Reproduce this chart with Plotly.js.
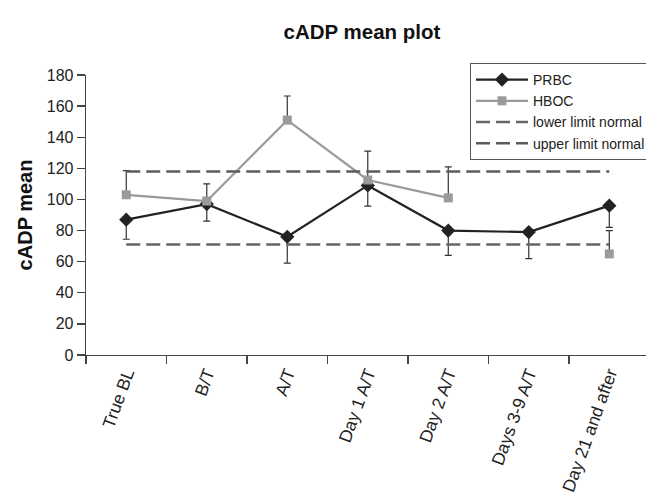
<!DOCTYPE html>
<html>
<head>
<meta charset="utf-8">
<script src="https://cdn.plot.ly/plotly-3.0.1.min.js"></script>
<style>html,body{margin:0;padding:0;background:#fff;}#chart{width:646px;height:498px;}</style>
</head>
<body>
<div id="chart"></div>
<script>
const categories = ["True BL", "B/T", "A/T", "Day 1 A/T", "Day 2 A/T", "Days 3-9 A/T", "Day 21 and after"];
const prbcMean = [87, 97, 76, 109, 80, 79, 96];
const prbcErrMinus = [12.6, 11, 17, 13.3, 16, 17, 14];
const hbocMean = [103, 99, 151, 112.5, 101, null, 65];
const hbocErrPlus = [15.5, 11, 15.5, 18.5, 20, 0, 15];
const lowerLimit = 71;
const upperLimit = 118;
const zeros = categories.map(() => 0);
const limitX = [categories[0], categories[categories.length - 1]];

const traces = [
  {
    name: "PRBC", x: categories, y: prbcMean, type: "scatter", mode: "lines+markers",
    line: {color: "#222222", width: 2.2},
    marker: {symbol: "diamond", size: 11, color: "#222222"},
    error_y: {type: "data", symmetric: false, array: zeros, arrayminus: prbcErrMinus,
              color: "#333333", thickness: 1.2, width: 3.5}
  },
  {
    name: "HBOC", x: categories, y: hbocMean, type: "scatter", mode: "lines+markers",
    connectgaps: false,
    line: {color: "#9a9a9a", width: 2.2},
    marker: {symbol: "square", size: 9, color: "#9a9a9a"},
    error_y: {type: "data", symmetric: false, array: hbocErrPlus, arrayminus: zeros,
              color: "#333333", thickness: 1.2, width: 3.5}
  },
  {
    name: "lower limit normal", x: limitX, y: [lowerLimit, lowerLimit], type: "scatter", mode: "lines",
    line: {color: "#666666", width: 2.5, dash: "14px,6px"}
  },
  {
    name: "upper limit normal", x: limitX, y: [upperLimit, upperLimit], type: "scatter", mode: "lines",
    line: {color: "#5c5c5c", width: 2.5, dash: "14px,6px"}
  }
];

const layout = {
  width: 646, height: 498,
  paper_bgcolor: "#ffffff", plot_bgcolor: "#ffffff",
  margin: {l: 86, r: 0, t: 75, b: 143, autoexpand: false},
  font: {family: "Liberation Sans, Arial, sans-serif", color: "#222222"},
  title: {text: "cADP mean plot", font: {size: 20.5, family: "Liberation Sans, Arial, sans-serif", color: "#111111", weight: "bold"},
          x: 362 / 646, xanchor: "center", xref: "container", y: 1 - 32 / 498, yanchor: "middle", yref: "container"},
  showlegend: true,
  legend: {x: 470 / 646, xref: "container", xanchor: "left", y: 1 - 63 / 498, yref: "container", yanchor: "top",
           bordercolor: "#555555", borderwidth: 1, bgcolor: "#ffffff", itemwidth: 52,
           font: {size: 14, color: "#222222"}, tracegroupgap: 0},
  xaxis: {
    type: "category", categoryorder: "array", categoryarray: categories,
    range: [-0.5, 6.456], tickson: "boundaries",
    showline: true, linecolor: "#444444", linewidth: 1.3,
    ticks: "outside", ticklen: 8, tickcolor: "#444444", tickwidth: 1.3,
    showgrid: false, zeroline: false, tickangle: -70,
    tickfont: {size: 17.5, color: "#222222"}
  },
  yaxis: {
    range: [0, 180], dtick: 20, tick0: 0,
    showline: true, linecolor: "#444444", linewidth: 1.3,
    ticks: "outside", ticklen: 8, tickcolor: "#444444", tickwidth: 1.3,
    showgrid: false, zeroline: false,
    tickfont: {size: 16, color: "#222222"},
    title: {text: "cADP mean", font: {size: 20, color: "#111111", weight: "bold"}, standoff: 8}
  },
  hovermode: false
};

Plotly.newPlot("chart", traces, layout, {displayModeBar: false, staticPlot: true});
</script>
</body>
</html>
